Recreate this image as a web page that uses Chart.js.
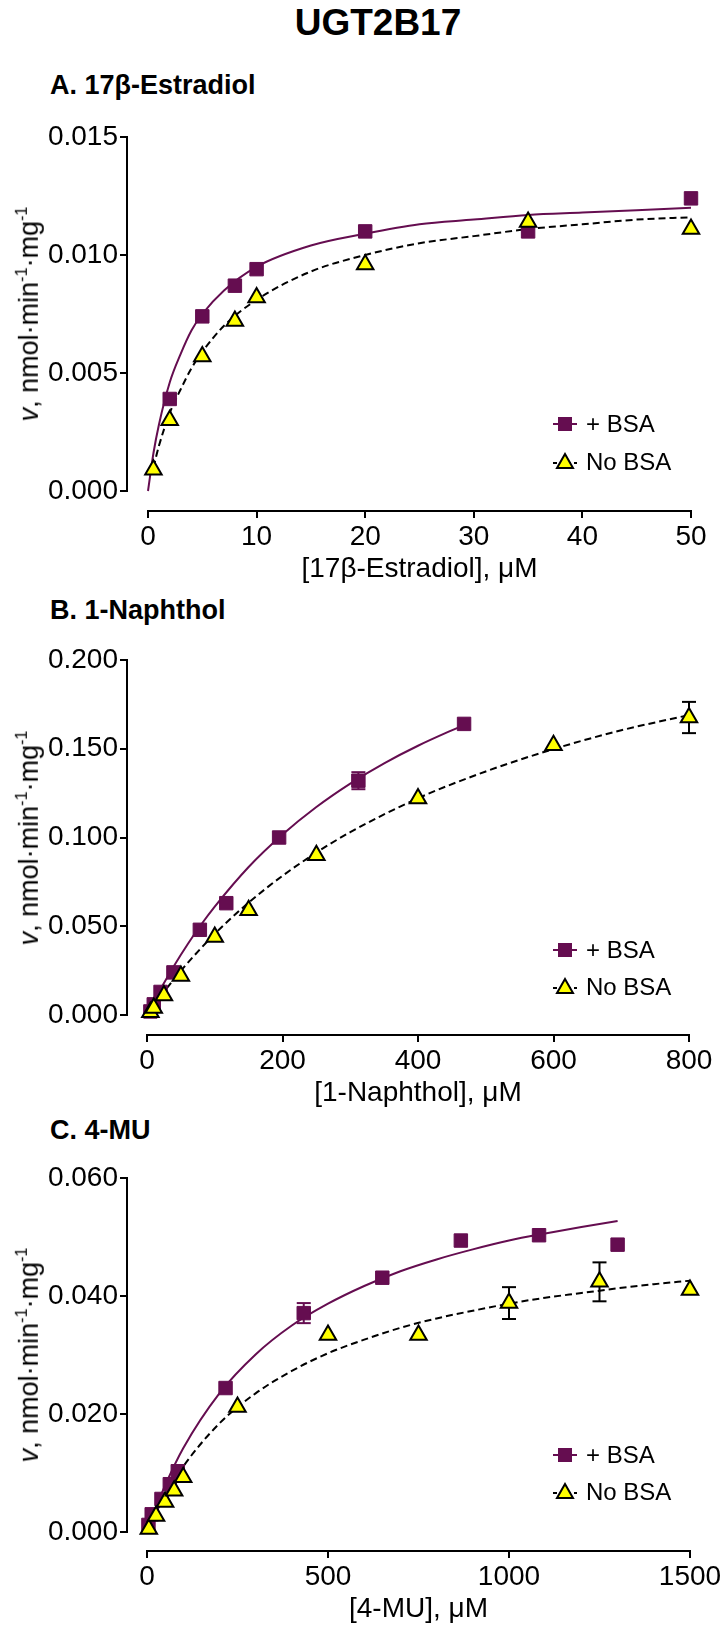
<!DOCTYPE html>
<html>
<head>
<meta charset="utf-8">
<script src="https://cdn.jsdelivr.net/npm/chart.js@4/dist/chart.umd.min.js"></script>
<style>
  body { margin: 0; background: #fff; font-family: "Liberation Sans", Arial, sans-serif; }
  #page { position: relative; width: 727px; height: 1629px; overflow: hidden; background: #fff; }
  canvas { position: absolute; left: 0; }
  .txt { position: absolute; white-space: nowrap; color: #000; line-height: 1; }
  .ytitle { transform: translate(-50%, -50%) rotate(-90deg); font-size: 27px; }
  .ytitle sup { font-size: 0.6em; vertical-align: 0.7em; }
  .xtitle { transform: translate(-50%, -50%); font-size: 28px; }
  .ptitle { transform: translate(0, -50%); font-size: 27px; font-weight: bold; }
  .leg { position: absolute; display: flex; align-items: center; transform: translateY(-50%); font-size: 24px; }
  .leg svg { margin-right: 8px; }
</style>
</head>
<body>
<div id="page">
  <div class="txt" style="left:378px; top:22px; transform:translate(-50%,-50%); font-size:37px; font-weight:bold;">UGT2B17</div>
</div>
<script>
// ---- A. 17β-Estradiol ----
const e2TicksX = [0, 10, 20, 30, 40, 50];
const e2TicksY = [0, 0.005, 0.010, 0.015];
const e2Conc_bsa = [2, 5, 8, 10, 20, 35, 50];
const e2Rate_bsa = [0.0039, 0.0074, 0.0087, 0.0094, 0.0110, 0.0110, 0.0124];
const e2Err_bsa = [0, 0, 0, 0, 0, 0, 0];
const e2Conc_nobsa = [0.5, 2, 5, 8, 10, 20, 35, 50];
const e2Rate_nobsa = [0.0009, 0.0030, 0.0057, 0.0072, 0.0082, 0.0096, 0.0114, 0.0111];
const e2Err_nobsa = [0, 0, 0, 0, 0, 0, 0, 0];
// fitted curves
const e2FitX_bsa = [0, 0.5, 1, 2, 3, 4, 5, 7, 10, 15, 20, 25, 30, 35, 40, 45, 50];
const e2FitY_bsa = [0, 0.0016, 0.0028, 0.0046, 0.0058, 0.0068, 0.0075, 0.0085, 0.0095, 0.0104, 0.0109, 0.0113, 0.0115, 0.0117, 0.0118, 0.0119, 0.0120];
const e2FitX_nobsa = [0.5, 1, 2, 3, 4, 5, 7, 10, 15, 20, 25, 30, 35, 40, 45, 50];
const e2FitY_nobsa = [0.0010, 0.0019, 0.0033, 0.0043, 0.0052, 0.0059, 0.0070, 0.0081, 0.0093, 0.0100, 0.0105, 0.0108, 0.0111, 0.0113, 0.0115, 0.0116];

// ---- B. 1-Naphthol ----
const napTicksX = [0, 200, 400, 600, 800];
const napTicksY = [0, 0.050, 0.100, 0.150, 0.200];
const napConc_bsa = [5, 10, 20, 39, 78, 117, 195, 312, 468];
const napRate_bsa = [0.002, 0.006, 0.013, 0.024, 0.048, 0.063, 0.100, 0.132, 0.164];
const napErr_bsa = [0, 0, 0, 0, 0, 0, 0, 0.0048, 0];
const napConc_nobsa = [5, 10, 25, 50, 100, 150, 250, 400, 600, 800];
const napRate_nobsa = [0.0015, 0.004, 0.011, 0.022, 0.044, 0.059, 0.090, 0.122, 0.152, 0.1676];
const napErr_nobsa = [0, 0, 0, 0, 0, 0, 0, 0, 0, 0.0088];
const napFitX_bsa = [0, 10, 20, 40, 60, 80, 100, 150, 200, 250, 300, 350, 400, 468];
const napFitY_bsa = [0, 0.0075, 0.0146, 0.0278, 0.0399, 0.0510, 0.0611, 0.0834, 0.1017, 0.1172, 0.1304, 0.1418, 0.1517, 0.1635];
const napFitX_nobsa = [0, 10, 25, 50, 100, 150, 200, 250, 300, 400, 500, 600, 700, 800];
const napFitY_nobsa = [0, 0.0054, 0.0130, 0.0249, 0.0457, 0.0633, 0.0784, 0.0915, 0.1030, 0.1221, 0.1372, 0.1498, 0.1604, 0.1690];

// ---- C. 4-MU ----
const muTicksX = [0, 500, 1000, 1500];
const muTicksY = [0, 0.020, 0.040, 0.060];
const muConc_bsa = [4, 13, 40, 63, 85, 217, 433, 650, 867, 1083, 1300];
const muRate_bsa = [0.0012, 0.0030, 0.0056, 0.0081, 0.0103, 0.0244, 0.0371, 0.0431, 0.0494, 0.0503, 0.0487];
const muErr_bsa = [0, 0, 0, 0, 0, 0, 0.0017, 0, 0, 0, 0];
const muConc_nobsa = [5, 25, 50, 75, 100, 250, 500, 750, 1000, 1250, 1500];
const muRate_nobsa = [0.0005, 0.0027, 0.0051, 0.0070, 0.0093, 0.0212, 0.0334, 0.0334, 0.0388, 0.0424, 0.0410];
const muErr_nobsa = [0, 0, 0, 0, 0, 0, 0, 0, 0.0027, 0.0033, 0];
const muFitX_bsa = [0, 25, 50, 100, 200, 300, 400, 500, 600, 700, 800, 900, 1000, 1100, 1200, 1300];
const muFitY_bsa = [0, 0.0042, 0.0079, 0.0142, 0.0235, 0.0301, 0.0350, 0.0387, 0.0417, 0.0442, 0.0462, 0.0479, 0.0494, 0.0506, 0.0517, 0.0527];
const muFitX_nobsa = [0, 25, 50, 100, 200, 300, 400, 500, 600, 700, 800, 900, 1000, 1100, 1200, 1300, 1400, 1500];
const muFitY_nobsa = [0, 0.0033, 0.0062, 0.0111, 0.0184, 0.0235, 0.0273, 0.0303, 0.0326, 0.0346, 0.0362, 0.0375, 0.0387, 0.0397, 0.0405, 0.0413, 0.0420, 0.0426];

const PURPLE = '#650D50';
const YELLOW = '#FFFF00';
const FONT = "'Liberation Sans', Arial, sans-serif";
Chart.defaults.font.family = FONT;
Chart.defaults.color = '#000';

const panels = [
  { title: 'A. 17\u03B2-Estradiol', xTitle: '[17\u03B2-Estradiol], \u03BCM', titleY: 85,
    canvasTop: 100, plotTop: 137, zeroY: 491, axisY: 511, x0: 148, xEnd: 691, legY: [424, 462],
    ticksX: e2TicksX, ticksY: e2TicksY,
    bsa: [e2Conc_bsa, e2Rate_bsa, e2Err_bsa], nobsa: [e2Conc_nobsa, e2Rate_nobsa, e2Err_nobsa],
    fitB: [e2FitX_bsa, e2FitY_bsa], fitN: [e2FitX_nobsa, e2FitY_nobsa] },
  { title: 'B. 1-Naphthol', xTitle: '[1-Naphthol], \u03BCM', titleY: 610,
    canvasTop: 625, plotTop: 660, zeroY: 1015, axisY: 1035, x0: 147, xEnd: 689, legY: [950, 987],
    ticksX: napTicksX, ticksY: napTicksY,
    bsa: [napConc_bsa, napRate_bsa, napErr_bsa], nobsa: [napConc_nobsa, napRate_nobsa, napErr_nobsa],
    fitB: [napFitX_bsa, napFitY_bsa], fitN: [napFitX_nobsa, napFitY_nobsa] },
  { title: 'C. 4-MU', xTitle: '[4-MU], \u03BCM', titleY: 1130,
    canvasTop: 1145, plotTop: 1178, zeroY: 1532, axisY: 1551, x0: 147, xEnd: 690, legY: [1455, 1492],
    ticksX: muTicksX, ticksY: muTicksY,
    bsa: [muConc_bsa, muRate_bsa, muErr_bsa], nobsa: [muConc_nobsa, muRate_nobsa, muErr_nobsa],
    fitB: [muFitX_bsa, muFitY_bsa], fitN: [muFitX_nobsa, muFitY_nobsa] }
];

const Y_AXIS_X = 127;
const XSCALE_H = 55;

// axis lines run from first to last tick only (offset axes)
const axisLines = {
  id: 'axisLines',
  beforeDatasetsDraw(chart) {
    const { ctx, chartArea, scales: { x, y } } = chart;
    const xt = x.ticks, yt = y.ticks;
    ctx.save();
    ctx.strokeStyle = '#000';
    ctx.lineWidth = 2;
    ctx.beginPath();
    ctx.moveTo(chartArea.left, y.getPixelForValue(yt[0].value) + 1);
    ctx.lineTo(chartArea.left, y.getPixelForValue(yt[yt.length - 1].value) - 1);
    ctx.moveTo(x.getPixelForValue(xt[0].value) - 1, chartArea.bottom);
    ctx.lineTo(x.getPixelForValue(xt[xt.length - 1].value) + 1, chartArea.bottom);
    ctx.stroke();
    ctx.restore();
  }
};

const xy = (xs, ys) => xs.map((v, i) => ({ x: v, y: ys[i] }));

function errorBars(series, color) {
  const [xs, ys, es] = series;
  let out = [];
  xs.forEach((v, i) => {
    if (!es[i]) return;
    out.push({
      data: [{ x: v, y: ys[i] - es[i] }, { x: v, y: ys[i] + es[i] }],
      showLine: true, borderColor: color, borderWidth: 2,
      pointStyle: 'line', pointRadius: 7, pointBorderColor: color, pointBorderWidth: 2,
      order: 3
    });
  });
  return out;
}

function legendSvg(kind) {
  if (kind === 'bsa') {
    return '<svg width="26" height="20"><line x1="1" y1="10" x2="25" y2="10" stroke="' + PURPLE + '" stroke-width="2"/>' +
      '<rect x="6" y="3" width="14" height="14" fill="' + PURPLE + '"/></svg>';
  }
  return '<svg width="26" height="20"><line x1="1" y1="11" x2="25" y2="11" stroke="#000" stroke-width="2" stroke-dasharray="4 3"/>' +
    '<polygon points="13,2 21,16 5,16" fill="' + YELLOW + '" stroke="#000" stroke-width="2" stroke-linejoin="miter"/></svg>';
}

const page = document.getElementById('page');

panels.forEach((p, k) => {
  const xMax = p.ticksX[p.ticksX.length - 1];
  const yMax = p.ticksY[p.ticksY.length - 1];
  const xMin = -(p.x0 - Y_AXIS_X) / (p.xEnd - p.x0) * xMax;
  const yMin = -(p.axisY - p.zeroY) / (p.zeroY - p.plotTop) * yMax;
  const H = p.axisY - p.canvasTop + XSCALE_H;

  const cv = document.createElement('canvas');
  cv.width = 727; cv.height = H;
  cv.style.top = p.canvasTop + 'px';
  page.appendChild(cv);

  const datasets = [
    { label: '+ BSA fit', data: xy(p.fitB[0], p.fitB[1]), showLine: true, borderColor: PURPLE, borderWidth: 2,
      pointRadius: 0, cubicInterpolationMode: 'monotone', order: 6 },
    { label: 'No BSA fit', data: xy(p.fitN[0], p.fitN[1]), showLine: true, borderColor: '#000', borderWidth: 2,
      borderDash: [7, 4], pointRadius: 0, cubicInterpolationMode: 'monotone', order: 5 },
    ...errorBars(p.bsa, PURPLE),
    ...errorBars(p.nobsa, '#000'),
    { label: '+ BSA', data: xy(p.bsa[0], p.bsa[1]), pointStyle: 'rect', pointRadius: 9.5,
      backgroundColor: PURPLE, borderColor: PURPLE, borderWidth: 1, order: 2 },
    { label: 'No BSA', data: xy(p.nobsa[0], p.nobsa[1]), pointStyle: 'triangle', pointRadius: 9.5,
      backgroundColor: YELLOW, borderColor: '#000', borderWidth: 2, order: 1 }
  ];

  new Chart(cv.getContext('2d'), {
    type: 'scatter',
    data: { datasets },
    options: {
      responsive: false,
      animation: false,
      clip: false,
      layout: { padding: { top: p.plotTop - p.canvasTop, right: 727 - p.xEnd, left: 0, bottom: 0 } },
      plugins: { legend: { display: false }, tooltip: { enabled: false } },
      scales: {
        x: {
          type: 'linear', min: xMin, max: xMax,
          border: { display: false },
          grid: { drawOnChartArea: false, drawTicks: true, tickLength: 7, color: '#000', lineWidth: 2 },
          ticks: { color: '#000', font: { size: 28 }, padding: 2, maxRotation: 0, autoSkip: false,
                   callback: v => String(v) },
          afterBuildTicks: s => { s.ticks = p.ticksX.map(v => ({ value: v })); },
          afterFit: s => { s.height = XSCALE_H; }
        },
        y: {
          type: 'linear', min: yMin, max: yMax,
          border: { display: false },
          grid: { drawOnChartArea: false, drawTicks: true, tickLength: 7, color: '#000', lineWidth: 2 },
          ticks: { color: '#000', font: { size: 28 }, padding: 2, autoSkip: false,
                   callback: v => v.toFixed(3) },
          afterBuildTicks: s => { s.ticks = p.ticksY.map(v => ({ value: v })); },
          afterFit: s => { s.width = Y_AXIS_X; }
        }
      }
    },
    plugins: [axisLines]
  });

  // texts
  const t = document.createElement('div');
  t.className = 'txt ptitle';
  t.style.left = '50px'; t.style.top = p.titleY + 'px';
  t.textContent = p.title;
  page.appendChild(t);

  const xt = document.createElement('div');
  xt.className = 'txt xtitle';
  xt.style.left = ((p.x0 + p.xEnd) / 2) + 'px'; xt.style.top = (p.axisY + 57) + 'px';
  xt.textContent = p.xTitle;
  page.appendChild(xt);

  const yt = document.createElement('div');
  yt.className = 'txt ytitle';
  yt.style.left = '28px'; yt.style.top = ((p.plotTop + p.zeroY) / 2) + 'px';
  yt.innerHTML = '<i>v</i>, nmol\u00B7min<sup>-1</sup>\u00B7mg<sup>-1</sup>';
  page.appendChild(yt);

  ['bsa', 'nobsa'].forEach((kind, j) => {
    const lg = document.createElement('div');
    lg.className = 'leg';
    lg.style.left = '552px'; lg.style.top = p.legY[j] + 'px';
    lg.innerHTML = legendSvg(kind) + '<span>' + (kind === 'bsa' ? '+ BSA' : 'No BSA') + '</span>';
    page.appendChild(lg);
  });
});
</script>
</body>
</html>
